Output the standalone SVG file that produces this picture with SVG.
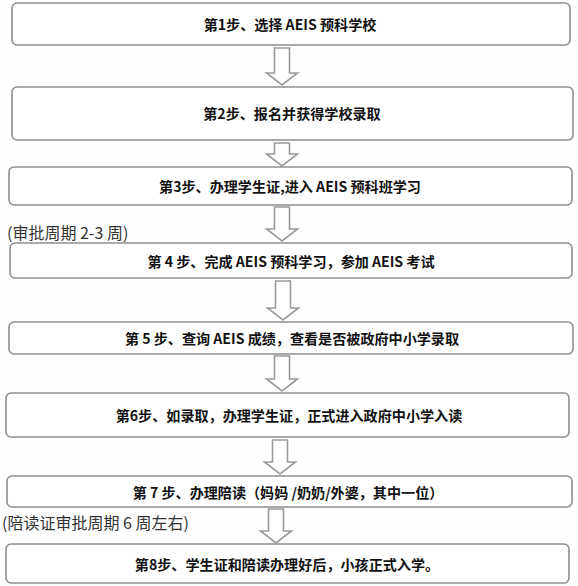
<svg xmlns="http://www.w3.org/2000/svg" width="578" height="586" viewBox="0 0 578 586">
<defs>
<style>
.box{fill:#ffffff;stroke:#8e8e8e;stroke-width:1.6}
.t{font-family:"Noto Sans CJK SC","Liberation Serif",sans-serif;font-weight:700;font-size:14.1px;fill:#111;text-anchor:middle;dominant-baseline:central}
.note{font-family:"Noto Sans CJK SC","Liberation Sans",sans-serif;font-weight:400;font-size:16px;fill:#333;dominant-baseline:central}
.arrow{fill:#ffffff;stroke:#9a9a9a;stroke-width:1.6;stroke-linejoin:miter}
</style>
</defs>
<rect width="578" height="586" fill="#fefefe"/>
<g id="connectors">
<path class="arrow" d="M274.5,48H289.5V73H297.5L282,85L266.5,73H274.5Z"/>
<path class="arrow" d="M274.5,143H289.5V154H297.5L282,166L266.5,154H274.5Z"/>
<path class="arrow" d="M274.5,207H289.5V229H297.5L282,241L266.5,229H274.5Z"/>
<path class="arrow" d="M275.5,281H290.5V308H298.5L283,320L267.5,308H275.5Z"/>
<path class="arrow" d="M274.5,356H289.5V379H297.5L282,391L266.5,379H274.5Z"/>
<path class="arrow" d="M272.5,440H287.5V462H295.5L280,474L264.5,462H272.5Z"/>
<path class="arrow" d="M268.5,509H283.5V531H291.5L276,543L260.5,531H268.5Z"/>
</g>
<g id="step1">
<rect class="box" x="12" y="3" width="558" height="42" rx="5"/>
<text class="t" x="290" y="24">第1步、选择 AEIS 预科学校</text>
</g>
<g id="step2">
<rect class="box" x="12" y="87" width="561" height="53" rx="5"/>
<text class="t" x="292" y="113">第2步、报名并获得学校录取</text>
</g>
<g id="step3">
<rect class="box" x="9" y="167" width="563" height="38" rx="5"/>
<text class="t" x="290" y="186">第3步、办理学生证,进入 AEIS 预科班学习</text>
</g>
<g id="note1">
<text class="note" x="7" y="232">(审批周期 2-3 周)</text>
</g>
<g id="step4">
<rect class="box" x="10" y="243" width="562" height="35" rx="5"/>
<text class="t" x="291" y="260.5">第 4 步、完成 AEIS 预科学习，参加 AEIS 考试</text>
</g>
<g id="step5">
<rect class="box" x="9" y="322" width="564" height="32" rx="5"/>
<text class="t" x="292" y="338">第 5 步、查询 AEIS 成绩，查看是否被政府中小学录取</text>
</g>
<g id="step6">
<rect class="box" x="6" y="393" width="563" height="44" rx="5"/>
<text class="t" x="289" y="415">第6步、如录取，办理学生证，正式进入政府中小学入读</text>
</g>
<g id="step7">
<rect class="box" x="7" y="476" width="565" height="31" rx="5"/>
<text class="t" x="288" y="491.5">第 7 步、办理陪读（妈妈 /奶奶/外婆，其中一位）</text>
</g>
<g id="note2">
<text class="note" x="2" y="522">(陪读证审批周期 6 周左右)</text>
</g>
<g id="step8">
<rect class="box" x="6" y="544" width="563" height="39" rx="5"/>
<text class="t" x="287" y="563.5">第8步、学生证和陪读办理好后，小孩正式入学。</text>
</g>
</svg>
